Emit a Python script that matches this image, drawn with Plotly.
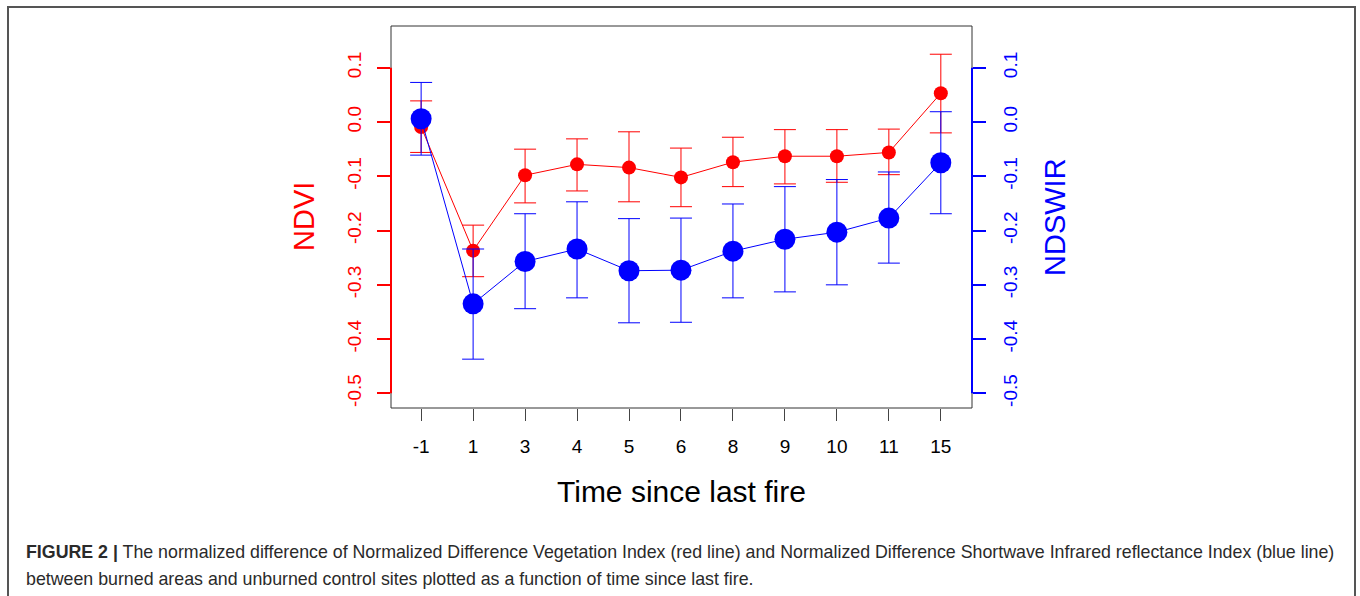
import plotly.graph_objects as go

# ---- data ----
time_labels = ["-1", "1", "3", "4", "5", "6", "8", "9", "10", "11", "15"]

ndvi_mean  = [-0.009, -0.237, -0.098, -0.078, -0.084, -0.102, -0.074, -0.063, -0.063, -0.056, 0.053]
ndvi_upper = [0.039, -0.190, -0.050, -0.031, -0.018, -0.048, -0.028, -0.014, -0.014, -0.013, 0.125]
ndvi_lower = [-0.056, -0.285, -0.149, -0.127, -0.147, -0.156, -0.119, -0.114, -0.111, -0.097, -0.020]

ndswir_mean  = [0.006, -0.335, -0.257, -0.234, -0.274, -0.273, -0.238, -0.216, -0.203, -0.177, -0.075]
ndswir_upper = [0.073, -0.234, -0.169, -0.147, -0.178, -0.177, -0.151, -0.119, -0.106, -0.092, 0.019]
ndswir_lower = [-0.061, -0.437, -0.344, -0.324, -0.370, -0.369, -0.324, -0.313, -0.300, -0.260, -0.169]

y_ticks = [-0.5, -0.4, -0.3, -0.2, -0.1, 0.0, 0.1]
y_tick_text = ["-0.5", "-0.4", "-0.3", "-0.2", "-0.1", "0.0", "0.1"]

caption_1 = ("<b>FIGURE 2 |</b> The normalized difference of Normalized Difference Vegetation Index (red line) "
             "and Normalized Difference Shortwave Infrared reflectance Index (blue line)")
caption_2 = "between burned areas and unburned control sites plotted as a function of time since last fire."

# ---- layout constants (pixels) ----
W, H = 1360, 596
PL, PR, PT, PB = 391, 972, 26, 408
pw, ph = PR - PL, PB - PT

def px_x(p):
    return (p - PL) / pw

def px_y(p):
    return (PB - p) / ph

FONT = "Liberation Sans, Arial, sans-serif"
RED = "#ff0000"
BLUE = "#0000ff"

xs = list(range(len(time_labels)))

fig = go.Figure()

fig.add_trace(go.Scatter(
    x=xs, y=ndvi_mean, mode="lines+markers",
    line=dict(color=RED, width=1),
    marker=dict(color=RED, size=14),
    error_y=dict(type="data", symmetric=False,
                 array=[u - m for u, m in zip(ndvi_upper, ndvi_mean)],
                 arrayminus=[m - l for m, l in zip(ndvi_mean, ndvi_lower)],
                 color=RED, thickness=1, width=11),
    yaxis="y", showlegend=False, hoverinfo="skip"))

fig.add_trace(go.Scatter(
    x=xs, y=ndswir_mean, mode="lines+markers",
    line=dict(color=BLUE, width=1),
    marker=dict(color=BLUE, size=21),
    error_y=dict(type="data", symmetric=False,
                 array=[u - m for u, m in zip(ndswir_upper, ndswir_mean)],
                 arrayminus=[m - l for m, l in zip(ndswir_mean, ndswir_lower)],
                 color=BLUE, thickness=1, width=11),
    yaxis="y2", showlegend=False, hoverinfo="skip"))

yr = [-0.527, 0.177]

fig.update_layout(
    width=W, height=H,
    margin=dict(l=PL, r=W - PR, t=PT, b=H - PB, pad=0),
    paper_bgcolor="white", plot_bgcolor="white",
    font=dict(family=FONT, size=19, color="#000"),
    xaxis=dict(range=[-0.58, 10.6], tickmode="array", tickvals=xs, ticktext=time_labels,
               showgrid=False, zeroline=False, showline=False,
               ticks="outside", ticklen=12, tickwidth=1, tickcolor="#444",
               tickfont=dict(size=19, color="#000"), ticklabelstandoff=9),
    yaxis=dict(range=yr, tickmode="array", tickvals=y_ticks, ticktext=y_tick_text,
               showgrid=False, zeroline=False, showline=False,
               ticks="outside", ticklen=13, tickwidth=2, tickcolor=RED,
               tickangle=-90, tickfont=dict(size=19, color=RED), ticklabelstandoff=8),
    yaxis2=dict(range=yr, overlaying="y", side="right", tickmode="array",
                tickvals=y_ticks, ticktext=y_tick_text,
                showgrid=False, zeroline=False, showline=False,
                ticks="outside", ticklen=13, tickwidth=2, tickcolor=BLUE,
                tickangle=-90, tickfont=dict(size=19, color=BLUE), ticklabelstandoff=8),
)

shapes = [
    # plot box
    dict(type="rect", xref="paper", yref="paper", x0=0, x1=1, y0=0, y1=1,
         line=dict(color="#333", width=1), layer="below"),
    # red axis line
    dict(type="line", xref="paper", yref="y", x0=0, x1=0, y0=y_ticks[0], y1=y_ticks[-1],
         line=dict(color=RED, width=2)),
    # blue axis line
    dict(type="line", xref="paper", yref="y2", x0=1, x1=1, y0=y_ticks[0], y1=y_ticks[-1],
         line=dict(color=BLUE, width=2)),
    # outer frame
    dict(type="rect", xref="paper", yref="paper",
         x0=px_x(8), x1=px_x(1355), y0=px_y(600), y1=px_y(7),
         line=dict(color="#555", width=2)),
]
fig.update_layout(shapes=shapes)

ann = [
    dict(text="NDVI", x=0, y=0.5, xref="paper", yref="paper", xshift=304 - PL,
         textangle=-90, showarrow=False, font=dict(size=29, color=RED),
         xanchor="center", yanchor="middle"),
    dict(text="NDSWIR", x=1, y=0.5, xref="paper", yref="paper", xshift=1055 - PR,
         textangle=-90, showarrow=False, font=dict(size=29, color=BLUE),
         xanchor="center", yanchor="middle"),
    dict(text="Time since last fire", x=0.5, y=0, xref="paper", yref="paper",
         yshift=-(491 - PB), showarrow=False, font=dict(size=30, color="#000"),
         xanchor="center", yanchor="middle"),
    dict(text=caption_1, x=px_x(24), y=px_y(552), xref="paper", yref="paper",
         showarrow=False, font=dict(size=17.8, color="#2a2a2a"),
         xanchor="left", yanchor="middle", align="left"),
    dict(text=caption_2, x=px_x(24), y=px_y(579), xref="paper", yref="paper",
         showarrow=False, font=dict(size=17.8, color="#2a2a2a"),
         xanchor="left", yanchor="middle", align="left"),
]
fig.update_layout(annotations=ann)

fig.write_html("out.html")
